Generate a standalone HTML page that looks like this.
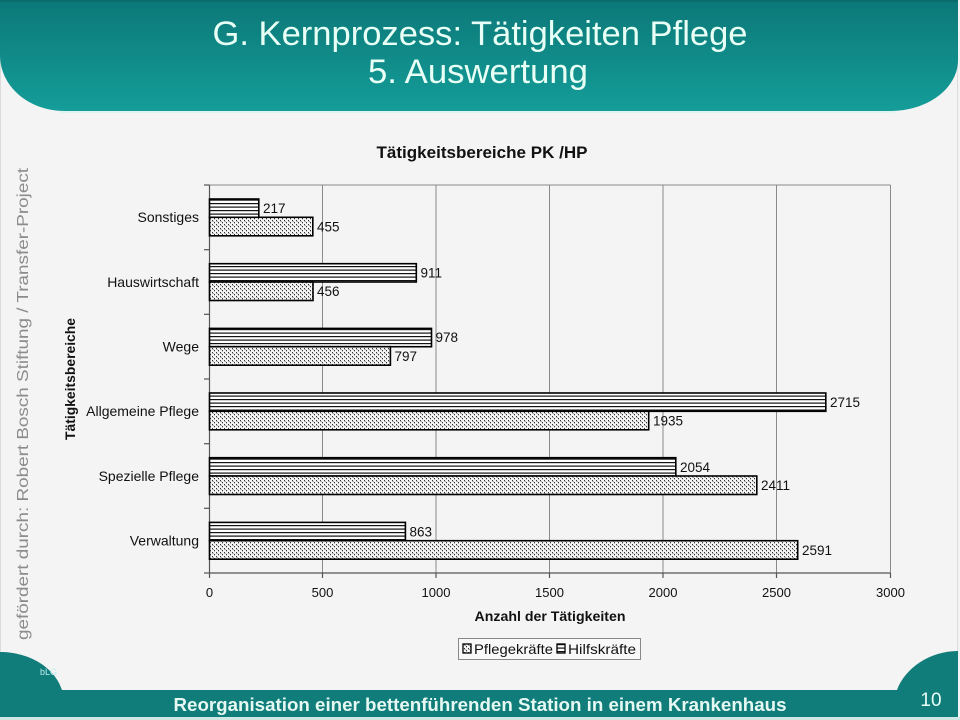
<!DOCTYPE html>
<html><head><meta charset="utf-8"><style>
html,body{margin:0;padding:0;background:#f4f4f4;}
svg{display:block;}
text{font-family:"Liberation Sans",Arial,sans-serif;}
</style></head><body>
<svg width="960" height="720" viewBox="0 0 960 720" xmlns="http://www.w3.org/2000/svg">
<defs>
<linearGradient id="hg" x1="0" y1="0" x2="0" y2="1">
<stop offset="0" stop-color="#0c7878"/>
<stop offset="1" stop-color="#149d99"/>
</linearGradient>
<pattern id="hl" patternUnits="userSpaceOnUse" width="6" height="3.5">
<rect width="6" height="3.5" fill="#ffffff"/>
<rect y="0" width="6" height="1.2" fill="#111"/>
</pattern>
<pattern id="dt" patternUnits="userSpaceOnUse" width="4" height="4">
<rect width="4" height="4" fill="#f4f4f4"/>
<rect x="0" y="0" width="1" height="1.3" fill="#333"/>
<rect x="2" y="2" width="1" height="1.3" fill="#333"/>
<rect x="1" y="1" width="1" height="1" fill="#aaa"/>
</pattern>
</defs>
<rect width="960" height="720" fill="#f4f4f4"/>
<rect x="0.5" y="0.5" width="957" height="719" fill="none" stroke="#dcdcdc"/>

<!-- header -->
<path d="M0,0 H958 V60 C958,88 928,111 890,111 H65 C28,111 0,86 0,55 Z" fill="url(#hg)"/>
<rect x="0" y="0" width="958" height="2" fill="#0a6c6c"/>
<line x1="60" y1="112" x2="895" y2="112" stroke="#d8f4f0" stroke-width="1.5"/>
<text x="480" y="45" font-size="34" fill="#e8fff6" text-anchor="middle" textLength="535" lengthAdjust="spacingAndGlyphs">G. Kernprozess: Tätigkeiten Pflege</text>
<text x="478" y="83" font-size="34" fill="#e8fff6" text-anchor="middle" textLength="220" lengthAdjust="spacingAndGlyphs">5. Auswertung</text>

<!-- footer -->
<path d="M0,652 C30,652 55,668 62,690 H897 C905,668 930,651 958,651 V717 H0 Z" fill="#117d7b"/>
<rect x="0" y="717" width="960" height="3" fill="#cfe8e6"/>
<text x="40" y="675" font-size="9" fill="#bfeeee">bLG</text>
<text x="480" y="711" font-size="18" font-weight="bold" fill="#e6f8f2" text-anchor="middle" textLength="613" lengthAdjust="spacingAndGlyphs">Reorganisation einer bettenführenden Station in einem Krankenhaus</text>
<text x="931" y="706" font-size="19" fill="#e8fff8" text-anchor="middle">10</text>

<!-- vertical side text -->
<text transform="translate(28,404) rotate(-90)" font-size="16" fill="#8c8c8c" text-anchor="middle" textLength="472" lengthAdjust="spacingAndGlyphs">gefördert durch: Robert Bosch Stiftung / Transfer-Project</text>

<!-- chart title -->
<text x="482" y="158" font-size="17" font-weight="bold" fill="#111" text-anchor="middle" textLength="211" lengthAdjust="spacingAndGlyphs">Tätigkeitsbereiche PK /HP</text>

<!-- gridlines -->
<g stroke="#8a8a8a" stroke-width="1">
<line x1="209.5" y1="185" x2="890.5" y2="185"/>
<line x1="322.5" y1="185" x2="322.5" y2="573"/>
<line x1="436" y1="185" x2="436" y2="573"/>
<line x1="549.5" y1="185" x2="549.5" y2="573"/>
<line x1="663" y1="185" x2="663" y2="573"/>
<line x1="776.5" y1="185" x2="776.5" y2="573"/>
<line x1="890.5" y1="185" x2="890.5" y2="573"/>
</g>
<!-- axes -->
<g stroke="#555" stroke-width="1.2">
<line x1="209.5" y1="185" x2="209.5" y2="573"/>
<line x1="209.5" y1="573" x2="890.5" y2="573"/>
<line x1="204" y1="185" x2="209.5" y2="185"/>
<line x1="204" y1="249.7" x2="209.5" y2="249.7"/>
<line x1="204" y1="314.3" x2="209.5" y2="314.3"/>
<line x1="204" y1="379" x2="209.5" y2="379"/>
<line x1="204" y1="443.7" x2="209.5" y2="443.7"/>
<line x1="204" y1="508.3" x2="209.5" y2="508.3"/>
<line x1="204" y1="573" x2="209.5" y2="573"/>
<line x1="209.5" y1="573" x2="209.5" y2="578"/>
<line x1="322.5" y1="573" x2="322.5" y2="578"/>
<line x1="436" y1="573" x2="436" y2="578"/>
<line x1="549.5" y1="573" x2="549.5" y2="578"/>
<line x1="663" y1="573" x2="663" y2="578"/>
<line x1="776.5" y1="573" x2="776.5" y2="578"/>
<line x1="890.5" y1="573" x2="890.5" y2="578"/>
</g>

<!-- bars -->
<g stroke="#000" stroke-width="1.6">
<rect x="209.5" y="199" width="49.3" height="18.3" fill="url(#hl)"/>
<rect x="209.5" y="217.3" width="103.3" height="18.5" fill="url(#dt)"/>
<rect x="209.5" y="263.7" width="206.8" height="18.3" fill="url(#hl)"/>
<rect x="209.5" y="282" width="103.5" height="18.5" fill="url(#dt)"/>
<rect x="209.5" y="328.4" width="222" height="18.3" fill="url(#hl)"/>
<rect x="209.5" y="346.7" width="180.9" height="18.5" fill="url(#dt)"/>
<rect x="209.5" y="393" width="616.3" height="18.3" fill="url(#hl)"/>
<rect x="209.5" y="411.3" width="439.2" height="18.5" fill="url(#dt)"/>
<rect x="209.5" y="457.7" width="466.3" height="18.3" fill="url(#hl)"/>
<rect x="209.5" y="476" width="547.3" height="18.5" fill="url(#dt)"/>
<rect x="209.5" y="522.4" width="195.9" height="18.3" fill="url(#hl)"/>
<rect x="209.5" y="540.7" width="588.2" height="18.5" fill="url(#dt)"/>
</g>

<!-- value labels -->
<g font-size="13.5" fill="#111">
<text x="263" y="213">217</text>
<text x="317" y="231.5">455</text>
<text x="420.5" y="277.5">911</text>
<text x="317" y="296">456</text>
<text x="435.5" y="342">978</text>
<text x="394.5" y="361">797</text>
<text x="830" y="407">2715</text>
<text x="653" y="425.5">1935</text>
<text x="680" y="472">2054</text>
<text x="761" y="490">2411</text>
<text x="409.5" y="536.5">863</text>
<text x="802" y="555">2591</text>
</g>

<!-- category labels -->
<g font-size="14" fill="#111" text-anchor="end">
<text x="199" y="222">Sonstiges</text>
<text x="199" y="287">Hauswirtschaft</text>
<text x="199" y="351.5">Wege</text>
<text x="199" y="416">Allgemeine Pflege</text>
<text x="199" y="481">Spezielle Pflege</text>
<text x="199" y="545.5">Verwaltung</text>
</g>

<!-- x tick labels -->
<g font-size="13" fill="#111" text-anchor="middle">
<text x="209.5" y="597">0</text>
<text x="322.5" y="597">500</text>
<text x="436" y="597">1000</text>
<text x="549.5" y="597">1500</text>
<text x="663" y="597">2000</text>
<text x="776.5" y="597">2500</text>
<text x="890.5" y="597">3000</text>
</g>

<!-- axis titles -->
<text x="550" y="621" font-size="14" font-weight="bold" fill="#111" text-anchor="middle" textLength="151" lengthAdjust="spacingAndGlyphs">Anzahl der Tätigkeiten</text>
<text transform="translate(75,379) rotate(-90)" font-size="14" font-weight="bold" fill="#111" text-anchor="middle" textLength="122" lengthAdjust="spacingAndGlyphs">Tätigkeitsbereiche</text>

<!-- legend -->
<rect x="458.5" y="638.5" width="182" height="21" fill="#f8f8f8" stroke="#888"/>
<rect x="463" y="644" width="8" height="9" fill="url(#dt)" stroke="#000" stroke-width="1.3"/>
<text x="474" y="654" font-size="14" fill="#111" textLength="79" lengthAdjust="spacingAndGlyphs">Pflegekräfte</text>
<rect x="557" y="644" width="8" height="9" fill="url(#hl)" stroke="#000" stroke-width="1.3"/>
<text x="568" y="654" font-size="14" fill="#111" textLength="68" lengthAdjust="spacingAndGlyphs">Hilfskräfte</text>
</svg>
</body></html>
